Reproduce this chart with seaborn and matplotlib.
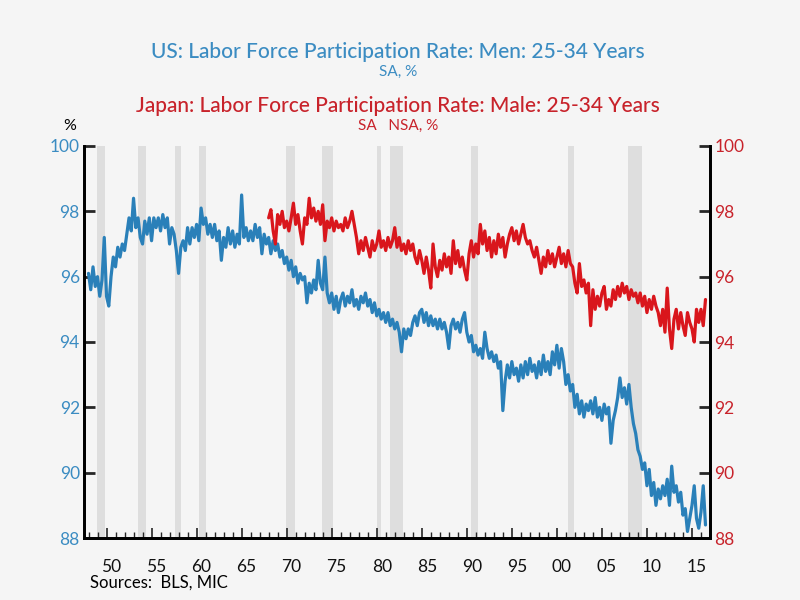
import numpy as np
import pandas as pd
import matplotlib
matplotlib.use("Agg")
import matplotlib.pyplot as plt
import seaborn as sns
from matplotlib.transforms import ScaledTranslation

# ---------------- data (quarterly readings, %) ----------------
us_start = 1948.0
us_values = [
    96.1, 95.6, 96.3, 95.7,   # 1948
    96.0, 95.4, 95.9, 97.2,   # 1949
    95.4, 95.1, 96.0, 96.6,   # 1950
    96.3, 96.9, 96.6, 97.0,   # 1951
    96.8, 97.3, 97.8, 97.4,   # 1952
    98.4, 97.5, 97.8, 97.2,   # 1953
    97.0, 97.7, 97.3, 97.8,   # 1954
    97.1, 97.8, 97.5, 97.8,   # 1955
    97.4, 97.9, 97.5, 97.8,   # 1956
    97.0, 97.5, 97.3, 96.8,   # 1957
    96.1, 96.9, 97.1, 96.8,   # 1958
    97.5, 97.0, 97.5, 97.2,   # 1959
    97.6, 97.1, 98.1, 97.6,   # 1960
    97.8, 97.3, 97.6, 97.2,   # 1961
    97.6, 97.1, 97.4, 96.5,   # 1962
    97.2, 96.9, 97.5, 97.0,   # 1963
    97.4, 96.9, 97.3, 97.0,   # 1964
    98.5, 97.2, 97.5, 97.1,   # 1965
    97.4, 97.1, 97.6, 97.2,   # 1966
    97.5, 96.7, 97.3, 97.0,   # 1967
    97.2, 96.7, 97.1, 96.8,   # 1968
    97.0, 96.6, 96.8, 96.4,   # 1969
    96.6, 96.2, 96.5, 96.0,   # 1970
    96.3, 95.8, 96.1, 95.9,   # 1971
    96.0, 95.2, 95.8, 95.5,   # 1972
    95.9, 95.6, 96.5, 95.8,   # 1973
    95.6, 96.6, 95.5, 95.2,   # 1974
    95.5, 95.0, 95.4, 94.9,   # 1975
    95.3, 95.5, 95.1, 95.4,   # 1976
    95.2, 95.6, 95.1, 95.3,   # 1977
    95.0, 95.4, 95.2, 95.5,   # 1978
    95.1, 95.3, 94.9, 95.2,   # 1979
    94.8, 95.0, 94.7, 94.9,   # 1980
    94.6, 94.9, 94.5, 94.7,   # 1981
    94.4, 94.6, 94.3, 93.7,   # 1982
    94.4, 94.1, 94.4, 94.2,   # 1983
    94.6, 94.8, 94.5, 94.9,   # 1984
    95.0, 94.6, 94.9, 94.5,   # 1985
    94.8, 94.5, 94.7, 94.4,   # 1986
    94.7, 94.4, 94.6, 94.3,   # 1987
    93.8, 94.5, 94.7, 94.4,   # 1988
    94.6, 94.3, 94.7, 94.9,   # 1989
    94.3, 94.0, 94.2, 93.7,   # 1990
    93.9, 93.6, 93.8, 93.5,   # 1991
    94.3, 93.8, 93.5, 93.7,   # 1992
    93.4, 93.6, 93.2, 93.4,   # 1993
    91.9, 92.8, 93.3, 92.9,   # 1994
    93.4, 93.0, 93.2, 92.8,   # 1995
    93.3, 92.9, 93.4, 93.0,   # 1996
    93.5, 93.1, 93.3, 92.9,   # 1997
    93.4, 93.0, 93.6, 93.1,   # 1998
    93.4, 93.0, 93.7, 93.3,   # 1999
    93.9, 93.2, 93.8, 93.4,   # 2000
    92.7, 93.0, 92.5, 92.7,   # 2001
    92.0, 92.4, 91.8, 92.2,   # 2002
    91.7, 92.1, 91.9, 92.2,   # 2003
    91.8, 92.3, 91.7, 92.0,   # 2004
    91.6, 92.1, 91.8, 92.0,   # 2005
    90.9, 91.6, 91.9, 92.3,   # 2006
    92.9, 92.3, 92.6, 92.1,   # 2007
    92.7, 92.0, 91.5, 91.2,   # 2008
    90.7, 90.5, 90.1, 90.3,   # 2009
    89.6, 90.1, 89.3, 89.7,   # 2010
    89.0, 89.5, 89.2, 89.6,   # 2011
    89.3, 89.8, 89.0, 90.2,   # 2012
    89.4, 89.6, 89.1, 89.4,   # 2013
    88.7, 88.9, 88.2, 88.6,   # 2014
    89.0, 89.6, 88.6, 88.3,   # 2015
    88.8, 89.6, 88.4,         # 2016
]

jp_start = 1968.0
jp_values = [
    97.8, 98.05, 97.4, 97.0,  # 1968
    97.9, 97.6, 98.0, 97.5,   # 1969
    97.7, 97.4, 97.8, 98.25,  # 1970
    97.6, 97.9, 97.4, 97.0,   # 1971
    97.8, 97.6, 98.4, 97.8,   # 1972
    98.1, 97.7, 98.0, 97.6,   # 1973
    98.2, 97.1, 97.7, 97.5,   # 1974
    97.8, 97.4, 97.7, 97.5,   # 1975
    97.6, 97.4, 97.8, 97.5,   # 1976
    97.7, 98.0, 97.6, 97.2,   # 1977
    96.7, 97.1, 96.8, 97.2,   # 1978
    96.9, 96.6, 97.1, 96.8,   # 1979
    97.0, 97.4, 96.9, 97.1,   # 1980
    96.8, 97.2, 96.9, 97.1,   # 1981
    97.5, 96.9, 97.2, 96.8,   # 1982
    97.0, 96.7, 97.1, 96.8,   # 1983
    97.0, 96.6, 96.4, 96.8,   # 1984
    96.5, 96.1, 96.6, 96.2,   # 1985
    95.65, 97.0, 96.3, 96.0,  # 1986
    96.5, 96.2, 96.7, 96.3,   # 1987
    96.6, 96.1, 97.1, 96.4,   # 1988
    96.8, 96.3, 96.6, 96.2,   # 1989
    95.9, 96.7, 97.1, 96.6,   # 1990
    97.0, 96.7, 97.6, 97.0,   # 1991
    97.4, 96.8, 97.2, 96.6,   # 1992
    97.1, 96.7, 97.3, 96.9,   # 1993
    97.2, 96.6, 97.0, 97.3,   # 1994
    97.5, 97.1, 97.4, 97.0,   # 1995
    97.3, 97.6, 97.2, 97.0,   # 1996
    97.1, 96.8, 96.6, 96.9,   # 1997
    96.5, 96.1, 96.6, 96.3,   # 1998
    96.8, 96.4, 96.7, 96.3,   # 1999
    96.6, 96.9, 96.4, 96.7,   # 2000
    96.3, 96.8, 96.4, 96.3,   # 2001
    95.8, 95.5, 96.4, 95.7,   # 2002
    95.9, 95.5, 95.8, 94.5,   # 2003
    95.6, 95.0, 95.4, 95.1,   # 2004
    95.5, 95.7, 95.0, 95.3,   # 2005
    95.1, 95.6, 95.3, 95.7,   # 2006
    95.4, 95.8, 95.5, 95.7,   # 2007
    95.3, 95.6, 95.4, 95.5,   # 2008
    95.2, 95.5, 95.1, 95.4,   # 2009
    94.9, 95.3, 95.0, 95.4,   # 2010
    95.1, 94.9, 94.5, 95.0,   # 2011
    94.3, 95.65, 94.4, 93.8,  # 2012
    94.7, 95.0, 94.4, 94.9,   # 2013
    94.5, 94.2, 94.9, 94.6,   # 2014
    94.4, 94.0, 95.0, 94.6,   # 2015
    95.0, 94.5, 95.3,         # 2016
]

recession_starts = [1948.9, 1953.5, 1957.6, 1960.3, 1969.9, 1973.9, 1980.0, 1981.5, 1990.5, 2001.2, 2007.9]
recession_ends   = [1949.8, 1954.4, 1958.3, 1961.1, 1970.9, 1975.2, 1980.5, 1982.9, 1991.2, 2001.9, 2009.5]

tick_years = [1950, 1955, 1960, 1965, 1970, 1975, 1980, 1985, 1990, 1995, 2000, 2005, 2010, 2015]
tick_labels = ["50", "55", "60", "65", "70", "75", "80", "85", "90", "95", "00", "05", "10", "15"]
y_ticks = [88, 90, 92, 94, 96, 98, 100]

# ---------------- frames ----------------
us_df = pd.DataFrame({"year": us_start + np.arange(len(us_values)) * 0.25, "value": us_values})
jp_df = pd.DataFrame({"year": jp_start + np.arange(len(jp_values)) * 0.25, "value": jp_values})

# ---------------- style ----------------
sns.set_theme(style="white")
plt.rcParams["font.family"] = ["Lato", "DejaVu Sans"]
BG = "#f5f5f5"
BLUE = "#2a80b9"
BLUE_TXT = "#3b8cc2"
RED = "#d9161c"
RED_TXT = "#c8232b"

fig = plt.figure(figsize=(8, 6), dpi=100, facecolor=BG)
ax = fig.add_axes([0.105, 0.1033, 0.7825, 0.6534])
ax.set_facecolor(BG)
ax2 = ax.twinx()

for s, e in zip(recession_starts, recession_ends):
    ax.axvspan(s, e, color="#dedede", lw=0, zorder=0)

sns.lineplot(data=us_df, x="year", y="value", ax=ax, color=BLUE, lw=2.3, zorder=3)
sns.lineplot(data=jp_df, x="year", y="value", ax=ax2, color=RED, lw=2.3, zorder=3)

for a in (ax, ax2):
    a.set_xlim(1947.5, 2017.0)
    a.set_ylim(88, 100)
    a.set_yticks(y_ticks)
    a.set_xlabel("")
    a.set_ylabel("")
    a.spines["top"].set_visible(False)
    for sp in ("left", "right", "bottom"):
        a.spines[sp].set_color("black")
        a.spines[sp].set_linewidth(2)

ax.set_yticklabels([str(v) for v in y_ticks], color=BLUE_TXT, fontsize=12.5)
ax2.set_yticklabels([str(v) for v in y_ticks], color=RED_TXT, fontsize=12.5)
ax.tick_params(axis="y", direction="in", length=8, width=2, pad=3, left=True)
ax2.tick_params(axis="y", direction="in", length=8, width=2, pad=3, right=True)

ax.set_xticks(tick_years)
ax.set_xticklabels(tick_labels, fontsize=12.5, color="#111111")
ax.set_xticks(np.arange(1948, 2017), minor=True)
ax.tick_params(axis="x", which="major", direction="in", length=7, width=1.2, pad=15, bottom=True)
ax.tick_params(axis="x", which="minor", direction="in", length=4, width=1.0, bottom=True)
off = ScaledTranslation(5 / 100, 0, fig.dpi_scale_trans)
for lab in ax.get_xticklabels():
    lab.set_transform(lab.get_transform() + off)

# ---------------- titles ----------------
fig.text(0.4975, 1 - 52 / 600, "US: Labor Force Participation Rate: Men: 25-34 Years",
         ha="center", va="center", color=BLUE_TXT, fontsize=15, fontweight="medium")
fig.text(0.4975, 1 - 72 / 600, "SA, %", ha="center", va="center", color=BLUE_TXT, fontsize=11)
fig.text(0.4975, 1 - 106 / 600, "Japan: Labor Force Participation Rate: Male: 25-34 Years",
         ha="center", va="center", color=RED_TXT, fontsize=15, fontweight="medium")
fig.text(0.4975, 1 - 126 / 600, "SA   NSA, %", ha="center", va="center", color=RED_TXT, fontsize=11)
fig.text(70 / 800, 1 - 126 / 600, "%", ha="center", va="center", color="black", fontsize=11.5)
fig.text(90 / 800, 1 - 583 / 600, "Sources:  BLS, MIC", ha="left", va="center", color="black",
         fontsize=12)

fig.savefig("out.png", dpi=100, facecolor=BG)
